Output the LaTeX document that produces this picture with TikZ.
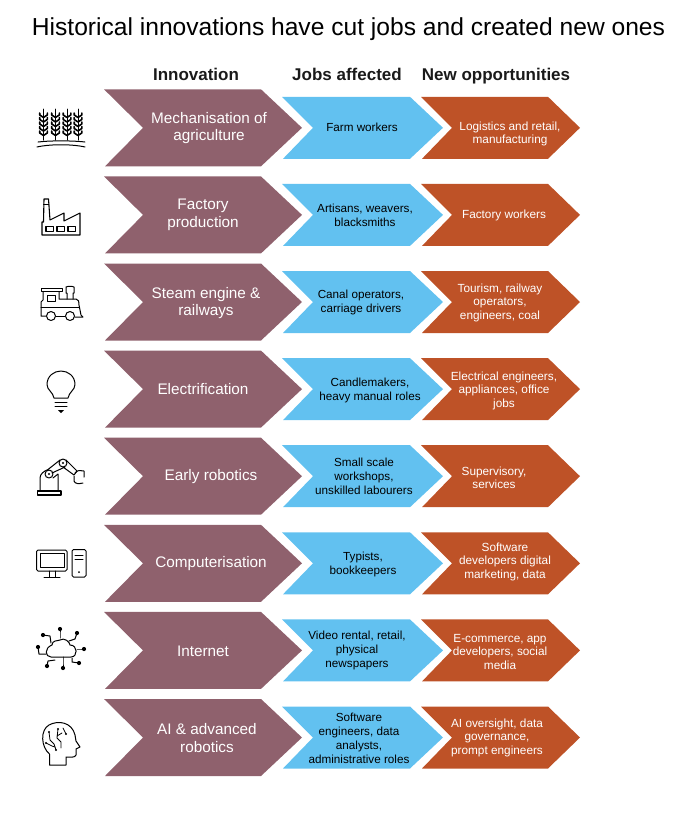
\documentclass[tikz,border=0pt]{standalone}
\usepackage{fontspec}
\setmainfont{Liberation Sans}
\definecolor{innocol}{HTML}{8F616D}
\definecolor{jobcol}{HTML}{62C1F0}
\definecolor{newcol}{HTML}{BE5227}
\definecolor{inkcol}{HTML}{1A1A1A}
\tikzset{
    headtext/.style={font=\bfseries\fontsize{17}{18}\selectfont, text=inkcol, anchor=base},
    innotext/.style={font=\fontsize{15.3}{17.5}\selectfont, text=white, align=center, yshift=-1pt},
    jobtext/.style={font=\fontsize{11.7}{14}\selectfont, text=black, align=center, yshift=-0.8pt},
    newtext/.style={font=\fontsize{11.8}{13.6}\selectfont, text=white, align=center, yshift=-0.8pt},
    icon/.style={draw=black, line width=1pt, line join=round, line cap=round},
    thinicon/.style={icon, line width=0.8pt},
}
\begin{document}
\begin{tikzpicture}[x=1pt,y=-1pt]
    \useasboundingbox (0,0) rectangle (695,815);

    \node[anchor=base] (title) at (348.5,35) {\fontsize{24.6}{26}\selectfont Historical innovations have cut jobs and created new ones};
    \node[headtext] (headinno) at (196,80) {Innovation};
    \node[headtext] (headjob) at (347,80) {Jobs affected};
    \node[headtext] (headnew) at (496,80) {New opportunities};

    % chevrons
    \foreach \r in {0,...,7}{
        \pgfmathsetmacro\ymid{127.8+87.1*\r}
        \fill[innocol] (104,\ymid-38.5) -- (261,\ymid-38.5) -- (302,\ymid) -- (261,\ymid+38.5) -- (105,\ymid+38.5) -- (143,\ymid) -- cycle;
        \fill[jobcol]  (282,\ymid-31) -- (410,\ymid-31) -- (443,\ymid) -- (410,\ymid+31) -- (283,\ymid+31) -- (313,\ymid) -- cycle;
        \fill[newcol]  (421,\ymid-31) -- (548,\ymid-31) -- (580,\ymid) -- (548,\ymid+31) -- (422,\ymid+31) -- (452,\ymid) -- cycle;
    }

    % innovation labels
    \foreach \r/\x/\y/\txt in {1/209/127/{Mechanisation of\\agriculture},
        2/203/214/{Factory\\production},
        3/206/302/{Steam engine \&\\railways},
        4/203/388/{Electrification},
        5/211/476/{Early robotics},
        6/211/563/{Computerisation},
        7/203/650/{Internet},
        8/207/737/{AI \& advanced\\robotics}}
        \node[innotext] (inno\r) at (\x,\y) {\txt};

    % jobs labels
    \foreach \r/\x/\y/\txt in {1/362/127/{Farm workers},
        2/365/215/{Artisans, weavers,\\blacksmiths},
        3/361/302/{Canal operators,\\carriage drivers},
        4/370/390/{Candlemakers,\\heavy manual roles},
        5/364/476/{Small scale\\workshops,\\unskilled labourers},
        6/363/564/{Typists,\\bookkeepers},
        7/357/650/{Video rental, retail,\\physical\\newspapers},
        8/359/738/{Software\\engineers, data\\analysts,\\administrative roles}}
        \node[jobtext] (job\r) at (\x,\y) {\txt};

    % opportunity labels
    \foreach \r/\x/\y/\txt in {1/510/133/{Logistics and retail,\\manufacturing},
        2/504/215/{Factory workers},
        3/500/302/{Tourism, railway\\operators,\\engineers, coal},
        4/504/390/{Electrical engineers,\\appliances, office\\jobs},
        5/494/477/{Supervisory,\\services},
        6/505/561/{Software\\developers digital\\marketing, data},
        7/500/651/{E-commerce, app\\developers, social\\media},
        8/497/737/{AI oversight, data\\governance,\\prompt engineers}}
        \node[newtext] (new\r) at (\x,\y) {\txt};

    % wheat
    \foreach \x in {43.5,55.5,67,78}{
        \draw[icon] (\x,109) -- (\x,140);
        \foreach \y in {115,119.5,124,128.5,133}{
            \draw[icon, line width=1.6pt] (\x-3.8,\y-2) -- (\x-3.8,\y) -- (\x,\y+2.5) -- (\x+3.8,\y) -- (\x+3.8,\y-2);
        }
    }
    \draw[icon] (38,142) .. controls (50,140.5) and (72,140.5) .. (85,142);
    \draw[icon] (37,147) .. controls (50,144) and (72,144) .. (85,147);

    % factory
    \draw[icon, line width=1.1pt] (42,235) -- (42,222) -- (43.5,222) -- (44,199) -- (48.5,199) -- (50,220) -- (64,213) -- (64,221) -- (80,213) -- (80,235) -- cycle;
    \draw[icon] (43.5,204) -- (48.8,204);
    \foreach \x in {46,57,68}
        \draw[icon, line width=1.3pt] (\x,226.5) rectangle (\x+7.5,231.5);

    % train
    \draw[icon] (41,288.5) -- (62,288.5) -- (62,291.5) -- (41,291.5) -- cycle;
    \draw[icon] (43,291.5) -- (43,300) -- (41,302) -- (41,316) -- (46,316);
    \draw[icon] (59,291.5) -- (59,299) -- (76,299) .. controls (79,299) and (79,302) .. (79,305) -- (81,315) -- (83,317) -- (75,317);
    \draw[icon] (56,316) -- (65,316);
    \draw[icon] (47,295) rectangle (55,301.5);
    \draw[icon] (41,307) -- (79,307);
    \draw[icon] (67,299) -- (67,293) -- (66,293) -- (66,287) .. controls (68,286) and (72,286) .. (74,287) -- (74,293) -- (73,293) -- (73,299);
    \draw[icon] (51,316) circle (4.5);
    \draw[icon] (70,316) circle (4.5);

    % bulb
    \draw[icon] (54,398) .. controls (53,392) and (47,390) .. (47,384.5) .. controls (47,376) and (54,371) .. (61,371) .. controls (68,371) and (75,376) .. (75,384.5) .. controls (75,390) and (69,392) .. (68,398) -- cycle;
    \draw[icon] (55,402) -- (67,402);
    \draw[icon] (55,406) -- (67,406);
    \fill[black] (58,410) -- (64,410) -- (61,413) -- cycle;

    % robot
    \draw[icon, line width=1.2pt] (37.5,491) rectangle (61,495);
    \draw[icon] (40,491) -- (40,478) .. controls (40,474) and (44,471) .. (48,469.5) -- (60,460);
    \draw[icon] (58,491) -- (58,474) -- (53,478);
    \draw[icon] (52,473) -- (65,467);
    \draw[icon] (66,460) -- (77,471) -- (74,475) -- (63,467);
    \draw[icon] (49,474) circle (4);
    \draw[icon] (63,463) circle (4);
    \fill (49,474) circle (1.2);
    \fill (63,463) circle (1.2);
    \draw[icon] (75,473) .. controls (77,470) and (81,470) .. (84,471) -- (84,477);
    \draw[icon] (74,476) -- (74,481) .. controls (75,484) and (79,484) .. (83,483);

    % computer
    \draw[icon, rounded corners=1.5pt] (36.5,550) rectangle (67,571);
    \draw[icon] (40,553) rectangle (64,567);
    \draw[icon] (49,571) -- (49,577);
    \draw[icon] (55,571) -- (55,577);
    \draw[icon] (44,577) -- (60,577);
    \draw[icon, rounded corners=1.5pt] (72,549.5) rectangle (86,577);
    \draw[icon] (75,555) -- (83,555);
    \draw[icon] (75,559) -- (83,559);
    \fill (79,572) circle (1);

    % cloud
    \draw[icon] (51,657) .. controls (45,657) and (44,648) .. (52,645) .. controls (52,640) and (58,641) .. (60,640) .. controls (64,637) and (70,642) .. (70,645) .. controls (78,645) and (78,657) .. (71,657) -- cycle;
    \foreach \xa/\ya/\xm/\ym/\xb/\yb in {60/638/60/634/60/629, 51/643/50/636/43/635, 46/654/39/654/38/647, 55/660/48/661/47/666, 63/657/63/662/63/668, 72/658/72/662/79/663, 77/649/80/649/84/649, 69/641/75/639/77/633}{
        \draw[icon] (\xa,\ya) -- (\xm,\ym) -- (\xb,\yb);
        \fill (\xb,\yb) circle (2.1);
    }

    % head
    \draw[icon] (49.5,765) -- (49.5,754) .. controls (41,747) and (40,730) .. (49,725) .. controls (58,720) and (72,722) .. (75,735) -- (76,741) -- (80,747) -- (76,749) -- (76,755) .. controls (75,758) and (70,757) .. (66,757) -- (66,765) -- cycle;
    \draw[thinicon] (49,732) -- (50,740) -- (54,744) -- (56,750);
    \draw[thinicon] (58,729) -- (57,738) -- (61,742) -- (61,748);
    \draw[thinicon] (63,728) -- (66,734);
    \draw[thinicon] (46,743) -- (52,746) -- (55,747);
    \draw[thinicon] (57,736) -- (62,733);
    \foreach \xd/\yd in {49/732,58/729,66/734,56/750,46/743}
        \fill (\xd,\yd) circle (1.1);
\end{tikzpicture}
\end{document}
